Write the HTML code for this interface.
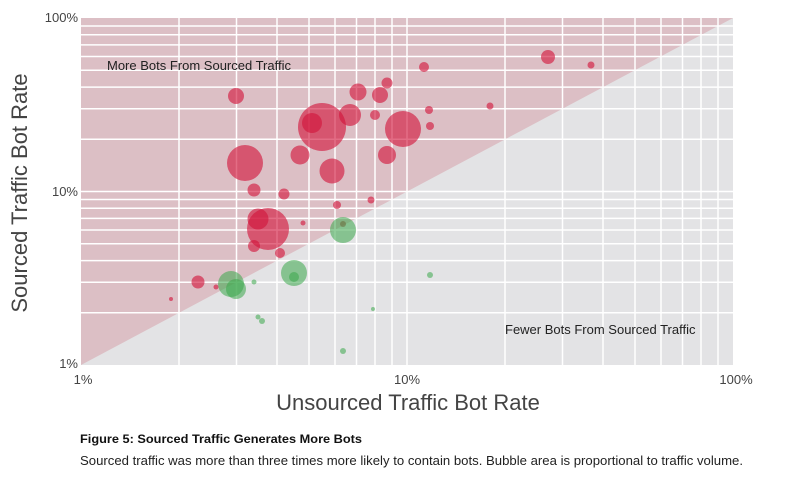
<!DOCTYPE html>
<html><head><meta charset="utf-8"><style>
body{margin:0;background:#fff;width:800px;height:481px;overflow:hidden;font-family:"Liberation Sans",sans-serif}
</style></head><body>
<svg width="800" height="481" viewBox="0 0 800 481" xmlns="http://www.w3.org/2000/svg" font-family="Liberation Sans, sans-serif">
<rect x="81" y="18" width="652" height="347" fill="#e3e3e5"/>
<polygon points="81,18 733,18 81,365" fill="#dcbfc5"/>
<g stroke="#fff" stroke-width="1.5">
<line x1="179" y1="18" x2="179" y2="365"/><line x1="236.5" y1="18" x2="236.5" y2="365"/><line x1="277" y1="18" x2="277" y2="365"/><line x1="309" y1="18" x2="309" y2="365"/><line x1="335" y1="18" x2="335" y2="365"/><line x1="356.5" y1="18" x2="356.5" y2="365"/><line x1="375" y1="18" x2="375" y2="365"/><line x1="392" y1="18" x2="392" y2="365"/><line x1="407" y1="18" x2="407" y2="365"/>
<line x1="505" y1="18" x2="505" y2="365"/><line x1="562.5" y1="18" x2="562.5" y2="365"/><line x1="603" y1="18" x2="603" y2="365"/><line x1="635" y1="18" x2="635" y2="365"/><line x1="661" y1="18" x2="661" y2="365"/><line x1="682.5" y1="18" x2="682.5" y2="365"/><line x1="701" y1="18" x2="701" y2="365"/><line x1="718" y1="18" x2="718" y2="365"/>
<line x1="81" y1="312.8" x2="733" y2="312.8"/><line x1="81" y1="282.2" x2="733" y2="282.2"/><line x1="81" y1="260.6" x2="733" y2="260.6"/><line x1="81" y1="243.7" x2="733" y2="243.7"/><line x1="81" y1="230" x2="733" y2="230"/><line x1="81" y1="218.4" x2="733" y2="218.4"/><line x1="81" y1="208.3" x2="733" y2="208.3"/><line x1="81" y1="199.5" x2="733" y2="199.5"/><line x1="81" y1="191.5" x2="733" y2="191.5"/>
<line x1="81" y1="139.3" x2="733" y2="139.3"/><line x1="81" y1="108.7" x2="733" y2="108.7"/><line x1="81" y1="87.1" x2="733" y2="87.1"/><line x1="81" y1="70.2" x2="733" y2="70.2"/><line x1="81" y1="56.5" x2="733" y2="56.5"/><line x1="81" y1="44.9" x2="733" y2="44.9"/><line x1="81" y1="34.8" x2="733" y2="34.8"/><line x1="81" y1="26" x2="733" y2="26"/>
</g>
<g fill="#d2143a" fill-opacity="0.62">
<circle cx="548" cy="57" r="7"/><circle cx="591" cy="65" r="3.5"/><circle cx="424" cy="67" r="5"/><circle cx="387" cy="83" r="5.5"/><circle cx="380" cy="95" r="8"/><circle cx="358" cy="92" r="8.5"/><circle cx="236" cy="96" r="8"/><circle cx="429" cy="110" r="4"/><circle cx="375" cy="115" r="5"/><circle cx="350" cy="115" r="11"/><circle cx="322" cy="127" r="24"/><circle cx="312" cy="123" r="10"/><circle cx="403" cy="129" r="18"/><circle cx="430" cy="126" r="4"/><circle cx="490" cy="106" r="3.5"/><circle cx="300" cy="155" r="9.5"/><circle cx="387" cy="155" r="9"/><circle cx="245" cy="163" r="18"/><circle cx="332" cy="171" r="12.5"/><circle cx="254" cy="190" r="6.5"/><circle cx="284" cy="194" r="5.5"/><circle cx="371" cy="200" r="3.5"/><circle cx="337" cy="205" r="4"/><circle cx="258" cy="219" r="10.5"/><circle cx="268" cy="229" r="21"/><circle cx="303" cy="223" r="2.5"/><circle cx="254" cy="246" r="6"/><circle cx="280" cy="253" r="5"/><circle cx="198" cy="282" r="6.5"/><circle cx="216" cy="287" r="2.5"/><circle cx="171" cy="299" r="2"/>
</g>
<g fill="#3aa84a" fill-opacity="0.55">
<circle cx="343" cy="230" r="13"/><circle cx="294" cy="273" r="13"/><circle cx="294" cy="277" r="5"/><circle cx="231" cy="284" r="13"/><circle cx="236" cy="289" r="10"/><circle cx="254" cy="282" r="2.5"/><circle cx="258" cy="317" r="2.5"/><circle cx="262" cy="321" r="3"/><circle cx="373" cy="309" r="2"/><circle cx="430" cy="275" r="3"/><circle cx="343" cy="351" r="3"/><circle cx="343" cy="224" r="3" fill="#6a6a3a"/>
</g>
<text x="107" y="70" font-size="13" fill="#222">More Bots From Sourced Traffic</text>
<text x="505" y="334" font-size="13" fill="#222">Fewer Bots From Sourced Traffic</text>
<g font-size="13" fill="#444" text-anchor="end">
<text x="78" y="22">100%</text><text x="78" y="196">10%</text><text x="78" y="368">1%</text>
</g>
<g font-size="13" fill="#444" text-anchor="middle">
<text x="83" y="384">1%</text><text x="407" y="384">10%</text><text x="736" y="384">100%</text>
</g>
<text x="408" y="410" font-size="22" fill="#444" text-anchor="middle">Unsourced Traffic Bot Rate</text>
<text transform="translate(27,193) rotate(-90)" font-size="22" fill="#444" text-anchor="middle">Sourced Traffic Bot Rate</text>
<text x="80" y="443" font-size="12" font-weight="bold" fill="#111" textLength="282" lengthAdjust="spacingAndGlyphs">Figure 5: Sourced Traffic Generates More Bots</text>
<text x="80" y="465" font-size="13" fill="#222" textLength="663" lengthAdjust="spacingAndGlyphs">Sourced traffic was more than three times more likely to contain bots. Bubble area is proportional to traffic volume.</text>
</svg>
</body></html>
